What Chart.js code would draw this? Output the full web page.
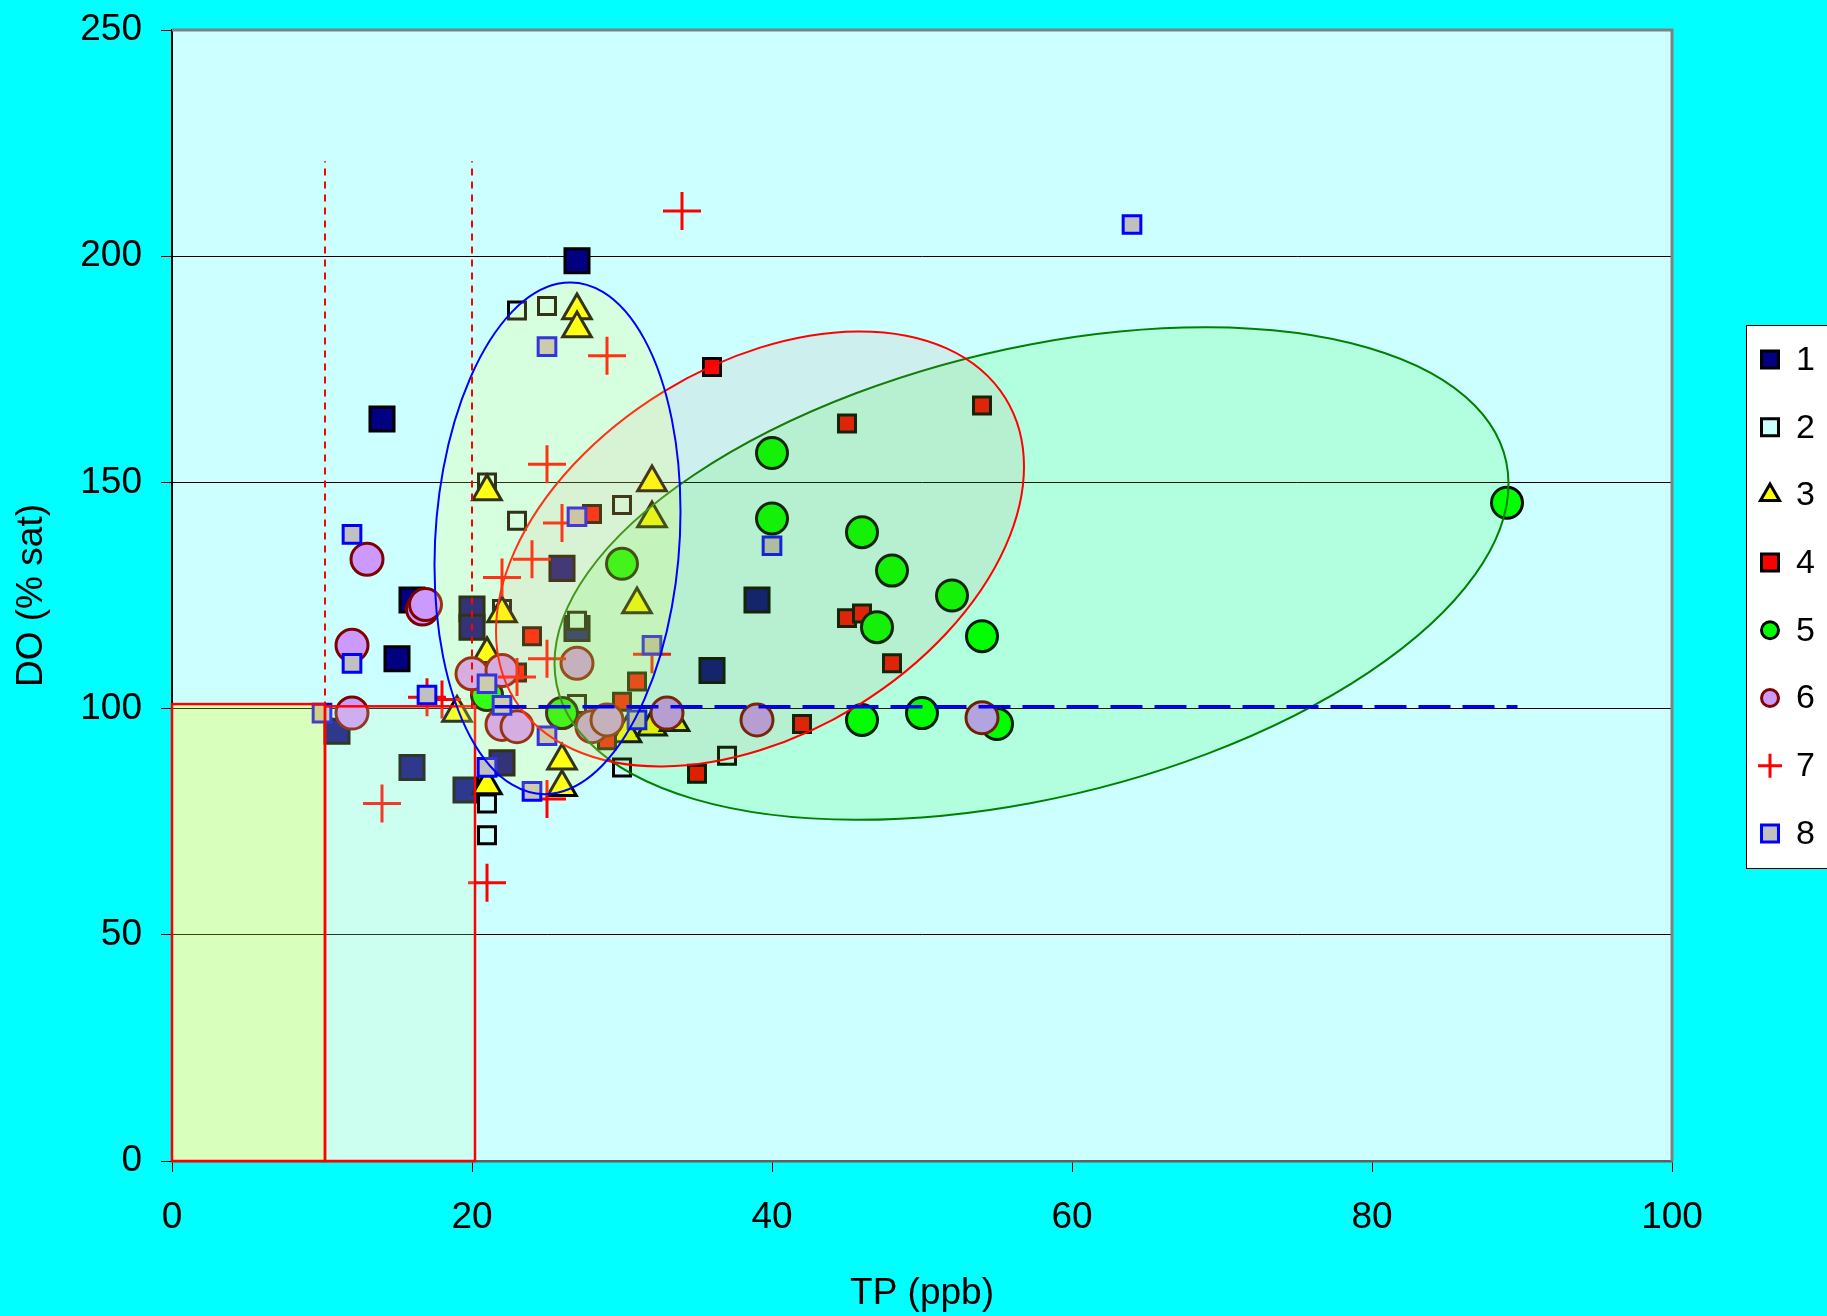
<!DOCTYPE html>
<html>
<head>
<meta charset="utf-8">
<title>DO vs TP</title>
<script src="https://cdn.jsdelivr.net/npm/chart.js@4/dist/chart.umd.min.js"></script>
<style>
  html, body { margin: 0; padding: 0; background: #00ffff; }
  canvas { display: block; }
</style>
</head>
<body>
<canvas id="chart" width="1827" height="1316"></canvas>
<script>
// ---- data: [TP (ppb), DO (% sat)] per sampling group ----
const seriesNames = ['1', '2', '3', '4', '5', '6', '7', '8'];

const series1 = [[27, 199], [14, 164], [16, 124], [15, 111], [11, 95], [16, 87], [19.6, 82], [22, 88],
                 [20, 122], [20, 118], [26, 131], [27, 117.7], [39, 124], [36, 108.4]];
const series2 = [[23, 188], [25, 189], [21, 150], [23, 141.5], [30, 145], [22, 122], [27, 119.4],
                 [27, 101], [30, 87], [37, 89.6], [21, 79], [21, 72]];
const series3 = [[27, 188], [27, 184], [32, 150], [32, 142], [21, 148], [31, 123], [22, 121], [21, 112],
                 [19, 99], [26, 88.5], [26, 82.6], [21, 83], [30.3, 94.5], [32, 96], [33.5, 97]];
const series4 = [[36, 175.5], [45, 163], [54, 167], [45, 120], [46, 121], [48, 110], [42, 96.6],
                 [35, 85.6], [31, 106], [30, 101.5], [29, 93], [28, 143], [24, 116], [23, 108]];
const series5 = [[40, 156.5], [40, 142], [46, 139], [48, 130.5], [52, 125], [54, 116], [47, 118],
                 [30, 132], [46, 97.5], [50, 99], [55, 96.6], [89, 145.5], [26, 99], [21, 103]];
const series6 = [[13, 133], [16.7, 122], [16.9, 123], [12, 114], [12, 99], [20, 107.7], [22, 108.4],
                 [22, 96.5], [23, 96], [27, 110], [28, 96], [29, 97.5], [33, 99], [39, 97.5], [54, 98]];
const series7 = [[34, 210], [29, 178], [25, 154], [26, 141], [24, 133], [22, 129], [25, 111], [23, 107],
                 [32, 112], [17, 102.5], [18, 102], [14, 79], [25, 80], [21, 61.5]];
const series8 = [[64, 207], [25, 180], [27, 142.4], [12, 138.5], [12, 110], [17, 103], [10, 99],
                 [21, 105.5], [22, 100.7], [25, 94], [21, 87], [24, 81.7], [31, 97.5], [32, 114], [40, 136]];

const allSeries = [series1, series2, series3, series4, series5, series6, series7, series8];

// saturation reference (DO = 100 %) and TP class limits
const doSaturation = 100.4;
const doSaturationTp = [21.5, 89.7];
const tpLimits = [10.2, 20];
const tpLimitDo = [100, 221];

// shaded TP classes below saturation: [tpFrom, tpTo, doFrom, doTo]
const classBoxes = [[0, 10.2, 0, 101], [10.2, 20.2, 0, 100.5]];

// group envelopes: centre and two conjugate half-axes, in data units
const envelopeCentres = [[57.3, 129.85], [39.2, 135.3], [25.7, 137.65]];
const envelopeAxisU = [[31.8, 19.81], [17.6, 18.2], [8.2, 5.93]];
const envelopeAxisV = [[0, 50.7], [0, 44.5], [0, 56.24]];

// axis ticks
const tpTickStep = 20;
const doTickStep = 50;

// ---- styles ----
const FONT = "'Liberation Sans', Arial, Helvetica, sans-serif";
const markerStyles = [
  { pointStyle: 'rect',     radius: 17,   bg: '#000080', border: '#000000', bw: 3, legendR: 12 },
  { pointStyle: 'rect',     radius: 12,   bg: '#ccffff', border: '#000000', bw: 3, legendR: 12 },
  { pointStyle: 'triangle', radius: 16.5, bg: '#ffff00', border: '#000000', bw: 3, legendR: 11 },
  { pointStyle: 'rect',     radius: 12,   bg: '#ff0000', border: '#000000', bw: 3, legendR: 12 },
  { pointStyle: 'circle',   radius: 15.5, bg: '#00ff00', border: '#000000', bw: 3, legendR: 8.5 },
  { pointStyle: 'circle',   radius: 16,   bg: '#cc99ff', border: '#800000', bw: 3, legendR: 8.5 },
  { pointStyle: 'cross',    radius: 19,   bg: '#ff0000', border: '#ff0000', bw: 3, legendR: 12 },
  { pointStyle: 'rect',     radius: 12.5, bg: '#c0c0c0', border: '#0000ff', bw: 3, legendR: 12 }
];
const envelopeStyles = [
  { fill: 'rgba(0,255,0,0.125)',     stroke: '#008000' },
  { fill: 'rgba(220,90,80,0.09)',    stroke: '#ff0000' },
  { fill: 'rgba(255,255,100,0.2)',   stroke: '#0000ff' }
];
const boxStyles = [
  { fill: 'rgba(255,255,0,0.26)',    stroke: '#ff0000' },
  { fill: 'rgba(210,255,185,0.22)',  stroke: '#ff0000' }
];

// ---- datasets ----
const toPoints = arr => arr.map(([x, y]) => ({ x, y }));

const datasets = allSeries.map((arr, i) => {
  const st = markerStyles[i];
  return {
    label: seriesNames[i],
    data: toPoints(arr),
    pointStyle: st.pointStyle,
    pointRadius: st.radius,
    pointBackgroundColor: st.bg,
    pointBorderColor: st.border,
    pointBorderWidth: st.bw,
    showLine: false,
    order: 9 - i           // later groups are drawn on top
  };
});

datasets.push({
  label: 'saturation',
  data: doSaturationTp.map(x => ({ x, y: doSaturation })),
  showLine: true, pointRadius: 0,
  borderColor: '#0000ee', borderWidth: 3.5, borderDash: [32, 12],
  order: 0
});
tpLimits.forEach(tp => {
  datasets.push({
    label: 'limit',
    data: tpLimitDo.map(y => ({ x: tp, y })),
    showLine: true, pointRadius: 0,
    borderColor: '#ff0000', borderWidth: 2, borderDash: [7, 6],
    order: 0
  });
});

// ---- plugins ----
const backgroundPlugin = {
  id: 'plotBackground',
  beforeDraw(chart) {
    const { ctx, chartArea: a } = chart;
    ctx.save();
    ctx.fillStyle = '#00ffff';
    ctx.fillRect(0, 0, chart.width, chart.height);
    ctx.fillStyle = '#ccffff';
    ctx.fillRect(a.left, a.top, a.right - a.left, a.bottom - a.top);
    ctx.restore();
  }
};

// translucent envelopes and class boxes laid over the markers
const overlayPlugin = {
  id: 'overlays',
  afterDatasetDraw(chart, args) {
    if (args.index !== 7) return;
    const { ctx } = chart;
    const xs = chart.scales.x, ys = chart.scales.y;
    ctx.save();
    classBoxes.forEach((b, i) => {
      const x0 = xs.getPixelForValue(b[0]), x1 = xs.getPixelForValue(b[1]);
      const y0 = ys.getPixelForValue(b[2]), y1 = ys.getPixelForValue(b[3]);
      ctx.fillStyle = boxStyles[i].fill;
      ctx.fillRect(x0, y1, x1 - x0, y0 - y1);
      ctx.strokeStyle = boxStyles[i].stroke;
      ctx.lineWidth = 2.5;
      ctx.strokeRect(x0, y1, x1 - x0, y0 - y1);
    });
    envelopeCentres.forEach((c, i) => {
      const u = envelopeAxisU[i], v = envelopeAxisV[i];
      const cx = xs.getPixelForValue(c[0]), cy = ys.getPixelForValue(c[1]);
      const ux = xs.getPixelForValue(c[0] + u[0]) - cx, uy = ys.getPixelForValue(c[1] + u[1]) - cy;
      const vx = xs.getPixelForValue(c[0] + v[0]) - cx, vy = ys.getPixelForValue(c[1] + v[1]) - cy;
      ctx.save();
      ctx.beginPath();
      ctx.transform(ux, uy, vx, vy, cx, cy);
      ctx.arc(0, 0, 1, 0, Math.PI * 2);
      ctx.closePath();
      ctx.restore();
      ctx.fillStyle = envelopeStyles[i].fill;
      ctx.fill();
      ctx.strokeStyle = envelopeStyles[i].stroke;
      ctx.lineWidth = 2;
      ctx.stroke();
    });
    ctx.restore();
  }
};

function drawMarker(ctx, st, x, y, r) {
  ctx.save();
  ctx.lineWidth = st.bw;
  ctx.strokeStyle = st.border;
  ctx.fillStyle = st.bg;
  ctx.beginPath();
  if (st.pointStyle === 'rect') {
    const s = r * Math.SQRT1_2;
    ctx.rect(x - s, y - s, 2 * s, 2 * s);
    ctx.fill(); ctx.stroke();
  } else if (st.pointStyle === 'circle') {
    ctx.arc(x, y, r, 0, Math.PI * 2);
    ctx.fill(); ctx.stroke();
  } else if (st.pointStyle === 'triangle') {
    ctx.moveTo(x, y - r);
    ctx.lineTo(x + r * Math.sin(2 * Math.PI / 3), y - r * Math.cos(2 * Math.PI / 3));
    ctx.lineTo(x + r * Math.sin(4 * Math.PI / 3), y - r * Math.cos(4 * Math.PI / 3));
    ctx.closePath();
    ctx.fill(); ctx.stroke();
  } else if (st.pointStyle === 'cross') {
    ctx.moveTo(x - r, y); ctx.lineTo(x + r, y);
    ctx.moveTo(x, y - r); ctx.lineTo(x, y + r);
    ctx.stroke();
  }
  ctx.restore();
}

const frameAndLegendPlugin = {
  id: 'frameAndLegend',
  afterDraw(chart) {
    const { ctx, chartArea: a } = chart;
    ctx.save();
    // plot frame (top and right edges)
    ctx.strokeStyle = '#808080';
    ctx.lineWidth = 3;
    ctx.beginPath();
    ctx.moveTo(a.left, a.top);
    ctx.lineTo(a.right, a.top);
    ctx.lineTo(a.right, a.bottom);
    ctx.stroke();

    // legend
    const lx = 1746.5, ly = 325.5, lw = 120, lh = 543;
    ctx.fillStyle = '#ffffff';
    ctx.fillRect(lx, ly, lw, lh);
    ctx.strokeStyle = '#000000';
    ctx.lineWidth = 1;
    ctx.strokeRect(lx, ly, lw, lh);
    ctx.font = '34px ' + FONT;
    ctx.textBaseline = 'middle';
    ctx.textAlign = 'left';
    seriesNames.forEach((name, i) => {
      const cy = 359.5 + 67.7 * i;
      const st = markerStyles[i];
      drawMarker(ctx, st, 1770, cy, st.legendR);
      ctx.fillStyle = '#000000';
      ctx.fillText(name, 1796, cy + 1);
    });
    ctx.restore();
  }
};

Chart.defaults.font.family = FONT;

new Chart(document.getElementById('chart'), {
  type: 'scatter',
  data: { datasets },
  plugins: [backgroundPlugin, overlayPlugin, frameAndLegendPlugin],
  options: {
    responsive: false,
    devicePixelRatio: 1,
    animation: false,
    events: [],
    layout: { padding: { top: 30, right: 155, left: 0, bottom: 0 } },
    plugins: { legend: { display: false }, tooltip: { enabled: false } },
    scales: {
      x: {
        type: 'linear', min: 0, max: 100,
        afterFit(scale) { scale.height = 155; },
        ticks: { stepSize: tpTickStep, color: '#000', font: { size: 37 }, padding: 24, maxRotation: 0 },
        grid: { drawOnChartArea: false, drawTicks: true, tickLength: 11, tickColor: '#000', lineWidth: 1 },
        border: { display: true, color: '#606060', width: 2.5 },
        title: { display: true, text: 'TP (ppb)', color: '#000', font: { size: 37 }, padding: { top: 0, bottom: 0 } }
      },
      y: {
        type: 'linear', min: 0, max: 250,
        afterFit(scale) {
          scale.width = 172;
          // the frame spacing is set by the layout padding, not by label overflow
          scale.paddingTop = 0;
          scale.paddingBottom = 0;
        },
        ticks: { stepSize: doTickStep, color: '#000', font: { size: 37 }, padding: 19 },
        grid: {
          drawOnChartArea: true, drawTicks: true, tickLength: 11, tickColor: '#000', lineWidth: 1,
          color: c => (c.tick && (c.tick.value === 0 || c.tick.value === 250)) ? 'rgba(0,0,0,0)' : '#000'
        },
        border: { display: true, color: '#000', width: 2 },
        title: { display: true, text: 'DO (% sat)', color: '#000', font: { size: 37 }, padding: { top: 10, bottom: 0 } }
      }
    }
  }
});
</script>
</body>
</html>
